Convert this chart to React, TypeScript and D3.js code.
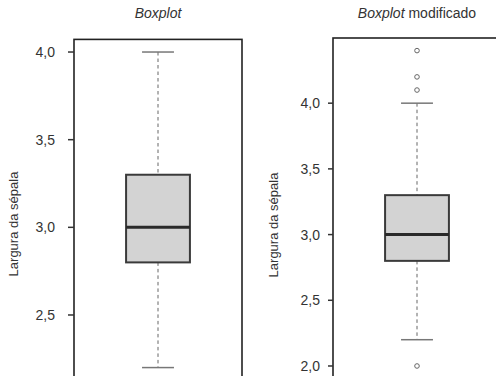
import React from "react";
import * as d3 from "d3";

// Data: [lower whisker, Q1, median, Q3, upper whisker]
const leftStats = [2.2, 2.8, 3.0, 3.3, 4.0];
const rightStats = [2.2, 2.8, 3.0, 3.3, 4.0];
const leftOutliers: number[] = [];
const rightOutliers = [4.4, 4.2, 4.1, 2.0];
const leftTicks = [2.5, 3.0, 3.5, 4.0];
const rightTicks = [2.0, 2.5, 3.0, 3.5, 4.0];
const yLabel = "Largura da sépala";

const W = 496;
const H = 376;
const FONT = "'Liberation Sans', Arial, Helvetica, sans-serif";

const locale = d3.formatLocale({ decimal: ",", thousands: ".", grouping: [3], currency: ["", ""] });
const fmt = locale.format(".1f");

type PanelProps = {
  stats: number[];
  outliers: number[];
  ticks: number[];
  x0: number; // frame left
  yTop: number;
  yBottom: number;
  tickLen: number;
  labelGap: number;
  yLabelX: number;
  yLabelY: number;
  titleX: number;
  title: React.ReactNode;
};

function Panel(p: PanelProps) {
  const all = [...p.stats, ...p.outliers];
  const [mn, mx] = d3.extent(all) as [number, number];
  const pad = (mx - mn) * 0.04;
  const y = d3.scaleLinear().domain([mn - pad, mx + pad]).range([p.yBottom, p.yTop]);
  const x = d3.scaleLinear().domain([0.5, 1.5]).range([p.x0, p.x0 + 168]);
  const [lo, q1, med, q3, hi] = p.stats;
  const cx = x(1);
  const bx0 = x(1 - 0.19);
  const bx1 = x(1 + 0.19);
  const cx0 = x(1 - 0.095);
  const cx1 = x(1 + 0.095);
  return (
    <g>
      <text x={p.titleX} y={18} textAnchor="middle" fontSize={14} fill="#333" fontFamily={FONT}>
        {p.title}
      </text>
      {/* whiskers */}
      <line x1={cx} x2={cx} y1={y(hi)} y2={y(q3)} stroke="#666" strokeWidth={1} strokeDasharray="3.5,3" />
      <line x1={cx} x2={cx} y1={y(q1)} y2={y(lo)} stroke="#666" strokeWidth={1} strokeDasharray="3.5,3" />
      <line x1={cx0} x2={cx1} y1={y(hi)} y2={y(hi)} stroke="#777" strokeWidth={1.5} />
      <line x1={cx0} x2={cx1} y1={y(lo)} y2={y(lo)} stroke="#777" strokeWidth={1.5} />
      {/* box */}
      <rect x={bx0} y={y(q3)} width={bx1 - bx0} height={y(q1) - y(q3)} fill="#d3d3d3" stroke="#3a3a3a" strokeWidth={2} />
      <line x1={bx0} x2={bx1} y1={y(med)} y2={y(med)} stroke="#2a2a2a" strokeWidth={3} />
      {p.outliers.map((o, i) => (
        <circle key={i} cx={cx} cy={y(o)} r={2.3} fill="none" stroke="#666" strokeWidth={1} />
      ))}
      {/* frame */}
      <rect x={p.x0} y={p.yTop} width={168} height={p.yBottom - p.yTop} fill="none" stroke="#222" strokeWidth={1.6} />
      {/* axis */}
      {p.ticks.map((t) => (
        <g key={t}>
          <line x1={p.x0 - p.tickLen} x2={p.x0} y1={y(t)} y2={y(t)} stroke="#333" strokeWidth={1.5} />
          <text x={p.x0 - p.labelGap} y={y(t)} dy="0.36em" textAnchor="end" fontSize={14} fill="#333" fontFamily={FONT}>
            {fmt(t)}
          </text>
        </g>
      ))}
      <text
        transform={`translate(${p.yLabelX},${p.yLabelY}) rotate(-90)`}
        textAnchor="middle"
        fontSize={13}
        fill="#333"
        fontFamily={FONT}
      >
        {yLabel}
      </text>
    </g>
  );
}

export default function App() {
  return (
    <svg width={W} height={H} style={{ position: "absolute", left: 0, top: 0, background: "#fff" }}>
      <rect width={W} height={H} fill="#fff" />
      <Panel
        stats={leftStats}
        outliers={leftOutliers}
        ticks={leftTicks}
        x0={74}
        yTop={39.4}
        yBottom={380.2}
        tickLen={6}
        labelGap={19}
        yLabelX={18}
        yLabelY={224}
        titleX={158}
        title={<tspan fontStyle="italic">Boxplot</tspan>}
      />
      <Panel
        stats={rightStats}
        outliers={rightOutliers}
        ticks={rightTicks}
        x0={333}
        yTop={38}
        yBottom={378.6}
        tickLen={5}
        labelGap={13}
        yLabelX={278}
        yLabelY={225}
        titleX={417}
        title={
          <>
            <tspan fontStyle="italic">Boxplot</tspan>
            <tspan> modificado</tspan>
          </>
        }
      />
    </svg>
  );
}
